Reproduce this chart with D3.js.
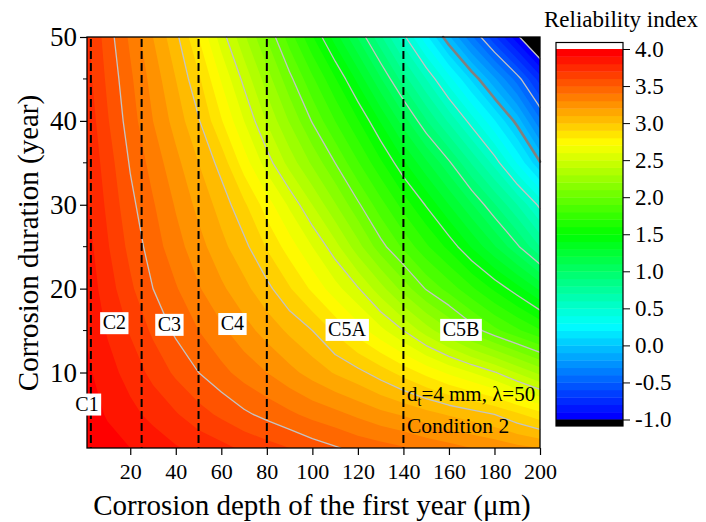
<!DOCTYPE html>
<html>
<head>
<meta charset="utf-8">
<script src="https://cdn.jsdelivr.net/npm/d3@7"></script>
<style>
body { margin: 0; background: #fff; }
svg { display: block; }
svg text { font-family: "Liberation Serif", "Times New Roman", serif; }
</style>
</head>
<body>
<script>
(function() {

    // grid of reliability index
    var depthX = [1, 10, 20, 30, 40, 50, 60, 70, 80, 90, 100, 110, 120, 130, 140, 150, 160, 170, 180, 190, 200]; // um
    var durationT = [1, 5, 10, 15, 20, 25, 30, 35, 40, 45, 50]; // year
    var beta = [
        [3.98, 3.94, 3.90, 3.86, 3.81, 3.77, 3.73, 3.68, 3.64, 3.60, 3.55, 3.51, 3.47, 3.44, 3.41, 3.37, 3.34, 3.30, 3.27, 3.23, 3.20],
        [3.95, 3.89, 3.83, 3.77, 3.71, 3.64, 3.58, 3.52, 3.47, 3.42, 3.37, 3.33, 3.28, 3.23, 3.19, 3.14, 3.09, 3.05, 3.00, 2.92, 2.84],
        [3.92, 3.84, 3.76, 3.67, 3.58, 3.50, 3.43, 3.36, 3.30, 3.23, 3.16, 3.09, 3.03, 2.95, 2.86, 2.77, 2.68, 2.60, 2.51, 2.39, 2.27],
        [3.89, 3.79, 3.69, 3.58, 3.48, 3.40, 3.32, 3.24, 3.16, 3.08, 3.00, 2.88, 2.75, 2.63, 2.50, 2.35, 2.21, 2.06, 1.93, 1.82, 1.71],
        [3.86, 3.75, 3.62, 3.50, 3.41, 3.31, 3.22, 3.13, 3.03, 2.91, 2.78, 2.64, 2.51, 2.34, 2.16, 1.99, 1.86, 1.72, 1.58, 1.44, 1.28],
        [3.84, 3.71, 3.57, 3.45, 3.34, 3.24, 3.13, 3.03, 2.89, 2.75, 2.60, 2.44, 2.24, 2.04, 1.88, 1.72, 1.57, 1.39, 1.21, 1.02, 0.80],
        [3.81, 3.68, 3.53, 3.41, 3.29, 3.17, 3.06, 2.92, 2.75, 2.58, 2.40, 2.21, 2.02, 1.84, 1.66, 1.49, 1.30, 1.11, 0.91, 0.70, 0.47],
        [3.79, 3.65, 3.49, 3.36, 3.23, 3.10, 2.96, 2.75, 2.55, 2.36, 2.18, 2.00, 1.81, 1.62, 1.42, 1.22, 1.02, 0.79, 0.56, 0.29, 0.01],
        [3.77, 3.61, 3.45, 3.30, 3.16, 3.01, 2.81, 2.60, 2.39, 2.19, 1.99, 1.80, 1.61, 1.39, 1.15, 0.91, 0.68, 0.45, 0.21, -0.04, -0.38],
        [3.74, 3.58, 3.42, 3.26, 3.10, 2.92, 2.69, 2.47, 2.25, 2.03, 1.82, 1.61, 1.37, 1.11, 0.85, 0.60, 0.34, 0.08, -0.18, -0.45, -0.75],
        [3.72, 3.55, 3.38, 3.20, 3.03, 2.80, 2.55, 2.32, 2.09, 1.85, 1.61, 1.35, 1.09, 0.82, 0.53, 0.23, -0.08, -0.38, -0.68, -0.97, -1.27]
    ];

    var lineLevels = [-1, -0.5, 0, 0.5, 1, 1.5, 2, 2.5, 3, 3.5];
    var xTicks = [20, 40, 60, 80, 100, 120, 140, 160, 180, 200];
    var yTicks = [10, 20, 30, 40, 50];
    var yMinor = [5, 15, 25, 35, 45];
    var barTicks = [-1, -0.5, 0, 0.5, 1, 1.5, 2, 2.5, 3, 3.5, 4];

    // corrosivity categories: borders on the depth axis, label names and where they sit (depth, year)
    var zoneEdges = [2.7, 25, 50, 80, 140];
    var zoneNames = ['C1', 'C2', 'C3', 'C4', 'C5A', 'C5B'];
    var zoneSpots = [[1, 6.3], [13, 16], [37.2, 15.8], [64.9, 15.9], [115.2, 15.2], [165.3, 15.2]];

    var serif = '"Liberation Serif", "Times New Roman", serif';

    var svg = d3.select('body').append('svg')
        .attr('width', 706)
        .attr('height', 522);

    var x = d3.scaleLinear().domain([1, 200]).range([87, 540]);
    var y = d3.scaleLinear().domain([1, 50]).range([448, 37]);

    var rainbow = d3.scaleLinear()
        .domain([0, 0.25, 0.5, 0.75, 1])
        .range(['#0000ff', '#00ffff', '#00ff00', '#ffff00', '#ff0000']);

    var fillLevels = d3.range(51).map(function(i) { return (i - 10) / 10; }); // -1.0 .. 4.0

    var plot = svg.append('g');

    plot.append('rect') //below -1.0 is black
        .attr('x', 87).attr('y', 37)
        .attr('width', 453).attr('height', 411)
        .attr('fill', '#000');

    var nx = depthX.length, ny = durationT.length;
    var values = [];
    beta.forEach(function(row) { values = values.concat(row); });

    var colIdx = d3.scaleLinear().domain(d3.range(nx)).range(depthX);
    var rowIdx = d3.scaleLinear().domain(d3.range(ny)).range(durationT);

    // contour coords (value i sits at i + 0.5) -> pixels
    function toPx(c, r) {
        var i = Math.max(0, Math.min(nx - 1, c - 0.5));
        var j = Math.max(0, Math.min(ny - 1, r - 0.5));
        return [x(colIdx(i)), y(rowIdx(j)), i, j];
    }

    var path = d3.geoPath(d3.geoTransform({
        point: function(c, r) {
            var p = toPx(c, r);
            this.stream.point(p[0], p[1]);
        }
    }));

    var contours = d3.contours().size([nx, ny]);

    plot.selectAll('path.band')
        .data(fillLevels.map(function(v) { return contours.contour(values, v); }))
        .enter().append('path')
        .attr('class', 'band')
        .attr('d', path)
        .attr('fill', function(d, i) { return i < 50 ? rainbow(i / 49) : '#fff'; });

    // iso lines, leaving out the pieces that run along the frame
    function onSameEdge(a, b) {
        var e = 1e-6;
        return (a[2] < e && b[2] < e) || (a[2] > nx - 1 - e && b[2] > nx - 1 - e) ||
            (a[3] < e && b[3] < e) || (a[3] > ny - 1 - e && b[3] > ny - 1 - e);
    }

    function isoline(level) {
        var s = '';
        contours.contour(values, level).coordinates.forEach(function(poly) {
            poly.forEach(function(ring) {
                var pts = ring.map(function(p) { return toPx(p[0], p[1]); });
                for (var k = 1; k < pts.length; k++) {
                    var a = pts[k - 1], b = pts[k];
                    if (onSameEdge(a, b)) continue;
                    s += 'M' + a[0].toFixed(2) + ',' + a[1].toFixed(2) + 'L' + b[0].toFixed(2) + ',' + b[1].toFixed(2);
                }
            });
        });
        return s;
    }

    plot.selectAll('path.iso')
        .data(lineLevels)
        .enter().append('path')
        .attr('class', 'iso')
        .attr('d', isoline)
        .attr('fill', 'none')
        .attr('stroke', function(d) { return d === 0 ? '#808080' : '#c4c4c4'; })
        .attr('stroke-width', function(d) { return d === 0 ? 2.6 : 1.3; })
        .attr('stroke-linecap', 'round');

    plot.selectAll('line.zone')
        .data(zoneEdges)
        .enter().append('line')
        .attr('class', 'zone')
        .attr('x1', function(d) { return x(d); })
        .attr('x2', function(d) { return x(d); })
        .attr('y1', y(50) + 2)
        .attr('y2', y(1))
        .attr('stroke', '#000')
        .attr('stroke-width', 2)
        .attr('stroke-dasharray', '8,4');

    plot.append('rect') //frame
        .attr('x', 87).attr('y', 37)
        .attr('width', 453).attr('height', 411)
        .attr('fill', 'none')
        .attr('stroke', '#000')
        .attr('stroke-width', 1.3);

    // axes
    var gx = svg.append('g')
        .attr('transform', 'translate(0,448)')
        .call(d3.axisBottom(x).tickValues(xTicks).tickSize(7).tickSizeOuter(0).tickPadding(8));
    var gy = svg.append('g')
        .attr('transform', 'translate(87,0)')
        .call(d3.axisLeft(y).tickValues(yTicks).tickSize(7).tickSizeOuter(0).tickPadding(3));
    gy.selectAll('line.minor')
        .data(yMinor)
        .enter().append('line')
        .attr('class', 'minor')
        .attr('x1', -4).attr('x2', 0)
        .attr('y1', function(d) { return y(d); })
        .attr('y2', function(d) { return y(d); })
        .attr('stroke', '#000');

    [gx, gy].forEach(function(g) {
        g.attr('font-family', serif);
        g.select('.domain').remove();
        g.selectAll('.tick line').attr('stroke-width', 1.2);
    });
    gx.attr('font-size', 22);
    gy.attr('font-size', 27);

    // category labels on white boxes
    var labels = svg.append('g');
    zoneNames.forEach(function(name, i) {
        var g = labels.append('g');
        var t = g.append('text')
            .attr('x', x(zoneSpots[i][0]))
            .attr('y', y(zoneSpots[i][1]))
            .attr('dy', '0.35em')
            .attr('text-anchor', 'middle')
            .attr('font-size', 20)
            .text(name);
        var b = t.node().getBBox();
        g.insert('rect', 'text')
            .attr('x', b.x - 2.5).attr('y', b.y + 1)
            .attr('width', b.width + 5).attr('height', b.height)
            .attr('fill', '#fff');
    });

    var note = svg.append('text')
        .attr('x', 407).attr('y', 401)
        .attr('font-size', 21);
    note.append('tspan').text('d');
    note.append('tspan').attr('dy', 5).attr('font-size', 14).text('t');
    note.append('tspan').attr('dy', -5).text('=4 mm, \u03bb=50');

    svg.append('text')
        .attr('x', 407).attr('y', 432.5)
        .attr('font-size', 21.5)
        .text('Condition 2');

    // colour bar
    var cb = d3.scaleLinear().domain([-1, 4]).range([419.5, 49]);
    var bar = svg.append('g');
    bar.selectAll('rect.band')
        .data(d3.range(50))
        .enter().append('rect')
        .attr('class', 'band')
        .attr('x', 556).attr('width', 67)
        .attr('y', function(k) { return cb(fillLevels[k + 1]); })
        .attr('height', function(k) { return cb(fillLevels[k]) - cb(fillLevels[k + 1]) + 0.4; })
        .attr('fill', function(k) { return rainbow(k / 49); });
    bar.append('rect')
        .attr('x', 556).attr('y', 42.5).attr('width', 67).attr('height', 6.5)
        .attr('fill', '#fff');
    bar.append('rect')
        .attr('x', 556).attr('y', 419.5).attr('width', 67).attr('height', 6.5)
        .attr('fill', '#000');
    bar.append('rect')
        .attr('x', 556).attr('y', 42.5).attr('width', 67).attr('height', 383.5)
        .attr('fill', 'none')
        .attr('stroke', '#000')
        .attr('stroke-width', 1.2);

    var gb = svg.append('g')
        .attr('transform', 'translate(623,0)')
        .call(d3.axisRight(cb).tickValues(barTicks).tickSize(7).tickSizeOuter(0).tickPadding(5)
            .tickFormat(function(d) { return d.toFixed(1); }));
    gb.attr('font-family', serif).attr('font-size', 23);
    gb.select('.domain').remove();

    svg.append('text')
        .attr('x', 621).attr('y', 27)
        .attr('text-anchor', 'middle')
        .attr('font-size', 23)
        .text('Reliability index');

    // axis titles
    svg.append('text')
        .attr('x', 312).attr('y', 515)
        .attr('text-anchor', 'middle')
        .attr('font-size', 29)
        .text('Corrosion depth of the first year (\u03bcm)');

    svg.append('text')
        .attr('transform', 'translate(38,243) rotate(-90)')
        .attr('text-anchor', 'middle')
        .attr('font-size', 29)
        .text('Corrosion duration (year)');

})();
</script>
</body>
</html>
